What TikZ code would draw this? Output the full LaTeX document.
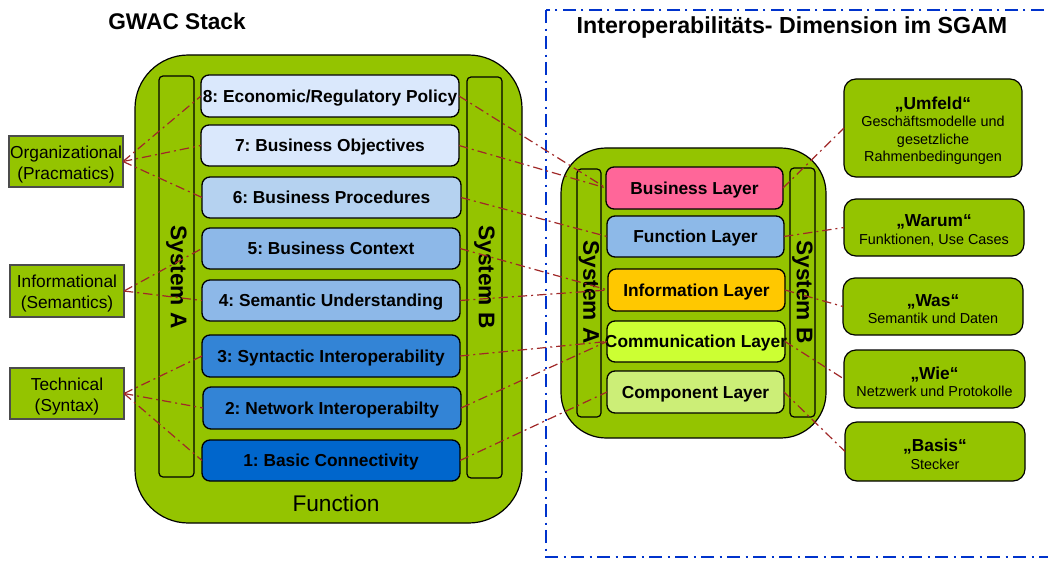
\documentclass[tikz,border=0pt]{standalone}
\usepackage{fontspec}
\setmainfont{Liberation Sans}
\frenchspacing
\definecolor{grn}{RGB}{148,196,0}
\definecolor{lnk}{RGB}{160,40,40}
\definecolor{frameblue}{RGB}{0,51,204}
\definecolor{Lviii}{RGB}{218,232,252}
\definecolor{Lvi}{RGB}{181,210,240}
\definecolor{Lv}{RGB}{141,184,232}
\definecolor{Liii}{RGB}{51,132,214}
\definecolor{Li}{RGB}{0,102,204}
\definecolor{cBus}{RGB}{255,102,153}
\definecolor{cFun}{RGB}{141,185,232}
\definecolor{cInf}{RGB}{255,200,0}
\definecolor{cCom}{RGB}{204,255,51}
\definecolor{cCmp}{RGB}{204,238,119}
\tikzset{
  base/.style={inner sep=0pt, outer sep=0pt},
  bigbox/.style={base, draw=black, line width=0.9pt, fill=grn},
  sysbar/.style={base, draw=black, line width=0.9pt, fill=grn, rounded corners=3pt},
  layer/.style={base, draw=black, line width=1pt, rounded corners=6pt, text height=9.3pt, text depth=0pt, font=\fontsize{13}{15}\bfseries\selectfont},
  leftbox/.style={base, draw=black!70, line width=0.8pt, fill=grn},
  lefttext/.style={align=center, inner sep=0pt, font=\fontsize{13}{15.75}\selectfont},
  descbox/.style={base, draw=black, line width=0.9pt, fill=grn, rounded corners=9pt},
  desctext/.style={align=center, inner sep=0pt, font=\fontsize{10.8}{13.2}\selectfont},
  link/.style={draw=lnk, line width=0.9pt, dash pattern=on 7pt off 3pt on 1.5pt off 3pt},
  systext/.style={rotate=-90, font=\fontsize{17}{20}\bfseries\selectfont},
  titletext/.style={font=\fontsize{17}{20}\bfseries\selectfont},
  sgamframe/.style={draw=frameblue, line width=1.6pt, dash pattern=on 10pt off 4pt on 1.5pt off 4pt},
}
\newcommand{\dtitle}[1]{{\fontsize{13}{15}\bfseries\selectfont #1}}
% \BX{style}{x1}{y1}{x2}{y2}{name}{text}
\newcommand{\BX}[7]{\node[#1, minimum width={(#4-#2)*0.75pt}, minimum height={(#5-#3)*0.75pt}] (#6) at ({(#2+#4)/2},{(#3+#5)/2}) {#7};}
% \BT{boxstyle}{textstyle}{x1}{y1}{x2}{y2}{name}{text}: box plus centred text label
\newcommand{\BT}[8]{\node[#1, minimum width={(#5-#3)*0.75pt}, minimum height={(#6-#4)*0.75pt}] (#7) at ({(#3+#5)/2},{(#4+#6)/2}) {};
  \node[#2] (#7t) at ([yshift=-2pt]#7.center) {#8};}
\begin{document}
\begin{tikzpicture}[x=0.75pt,y=-0.75pt]
\clip (0,0) rectangle (1048,563);
\fill[white] (0,0) rectangle (1048,563);

% frame and titles
\draw[sgamframe] (546,10) rectangle (1080,557);
\node[titletext] (t1) at (177,21) {GWAC Stack};
\node[titletext, font=\fontsize{17.4}{20}\bfseries\selectfont] (t2) at (792,28) {Interoperabilitäts- Dimension im SGAM};

% GWAC stack
\BX{bigbox, rounded corners=40pt}{135}{55}{522}{523}{gwac}{}
\node[font=\fontsize{17}{20}\selectfont] (func) at (336,503) {Function};
\BX{sysbar}{159}{76}{194}{477}{gA}{}
\node[systext] (gAt) at (176.5,277) {System A};
\BX{sysbar}{467}{77}{502}{478}{gB}{}
\node[systext] (gBt) at (484.5,277) {System B};

\BX{layer, fill=Lviii}{201}{75}{459}{117}{g8}{8: Economic/Regulatory Policy}
\BX{layer, fill=Lviii}{201}{125}{459}{166}{g7}{7: Business Objectives}
\BX{layer, fill=Lvi}{202}{177}{461}{218}{g6}{6: Business Procedures}
\BX{layer, fill=Lv}{202}{228}{460}{269}{g5}{5: Business Context}
\BX{layer, fill=Lv}{202}{280}{460}{321}{g4}{4: Semantic Understanding}
\BX{layer, fill=Liii}{202}{335}{460}{377}{g3}{3: Syntactic Interoperability}
\BX{layer, fill=Liii}{203}{387}{461}{429}{g2}{2: Network Interoperabilty}
\BX{layer, fill=Li}{202}{440}{460}{481}{g1}{1: Basic Connectivity}

% left boxes
\BT{leftbox}{lefttext}{9}{136}{123}{187}{org}{Organizational\\(Pracmatics)}
\BT{leftbox}{lefttext}{10}{265}{124}{317}{inf}{Informational\\(Semantics)}
\BT{leftbox}{lefttext}{10}{368}{124}{419}{tec}{Technical\\(Syntax)}

% SGAM
\BX{bigbox, rounded corners=34pt}{561}{148}{826}{438}{sgam}{}
\BX{sysbar}{577}{169}{601}{417}{sA}{}
\node[systext] (sAt) at (589,292) {System A};
\BX{sysbar}{790}{168}{815}{417}{sB}{}
\node[systext] (sBt) at (802.5,292) {System B};

\BX{layer, fill=cBus}{606}{167}{783}{209}{bus}{Business Layer}
\BX{layer, fill=cFun}{607}{216}{784}{257}{fun}{Function Layer}
\BX{layer, fill=cInf}{608}{269}{785}{311}{infl}{Information Layer}
\BX{layer, fill=cCom}{607}{321}{785}{362}{com}{\makebox[0pt]{Communication Layer}}
\BX{layer, fill=cCmp}{607}{371}{784}{413}{cmp}{Component Layer}

% description boxes
\BT{descbox}{desctext}{844}{79}{1022}{177}{umf}{\dtitle{„Umfeld“}\\Geschäftsmodelle und\\gesetzliche\\Rahmenbedingungen}
\BT{descbox}{desctext}{844}{199}{1024}{256}{war}{\dtitle{„Warum“}\\Funktionen, Use Cases}
\BT{descbox}{desctext}{843}{278}{1023}{335}{was}{\dtitle{„Was“}\\Semantik und Daten}
\BT{descbox}{desctext}{844}{350}{1025}{408}{wie}{\dtitle{„Wie“}\\Netzwerk und Protokolle}
\BT{descbox}{desctext}{845}{422}{1025}{481}{bas}{\dtitle{„Basis“}\\Stecker}

% connectors left
\draw[link] (org.east) -- (g8.west);
\draw[link] (org.east) -- (g7.west);
\draw[link] (org.east) -- (g6.west);
\draw[link] (inf.east) -- (g5.west);
\draw[link] (inf.east) -- (g4.west);
\draw[link] (tec.east) -- (g3.west);
\draw[link] (tec.east) -- (g2.west);
\draw[link] (tec.east) -- (g1.west);

% connectors middle
\draw[link] (g8.east) -- (bus.west);
\draw[link] (g7.east) -- (bus.west);
\draw[link] (g6.east) -- (fun.west);
\draw[link] (g5.east) -- (infl.west);
\draw[link] (g4.east) -- (infl.west);
\draw[link] (g3.east) -- (com.west);
\draw[link] (g2.east) -- (com.west);
\draw[link] (g1.east) -- (cmp.west);

% connectors right
\draw[link] (bus.east) -- (umf.west);
\draw[link] (fun.east) -- (war.west);
\draw[link] (infl.east) -- (was.west);
\draw[link] (com.east) -- (wie.west);
\draw[link] (cmp.east) -- (bas.west);
\end{tikzpicture}
\end{document}
